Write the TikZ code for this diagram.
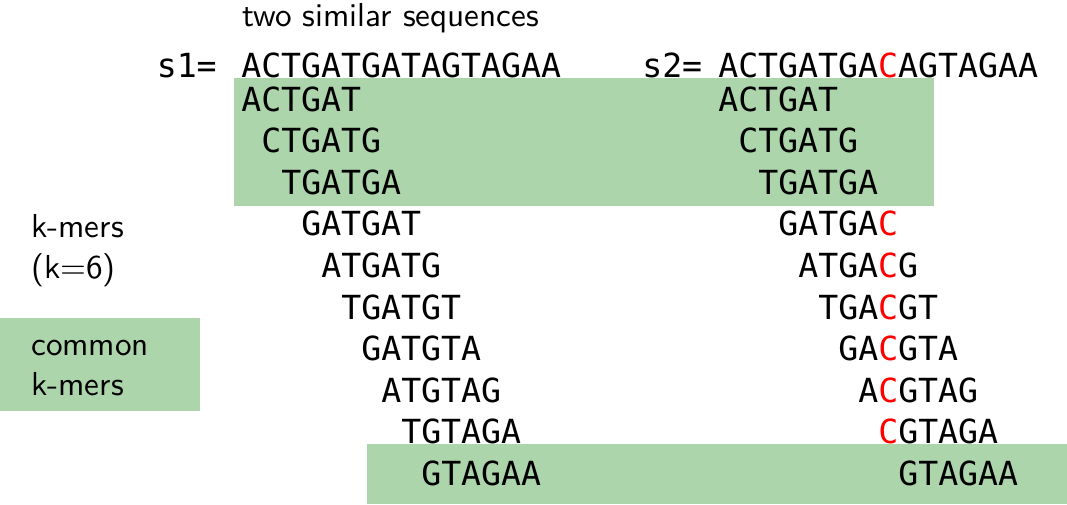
\documentclass[tikz,border=0pt]{standalone}
\usepackage{fontspec}
\setmonofont{DejaVu Sans Mono}
\setsansfont{lmsans10-regular.otf}
\usepackage{xcolor}
\definecolor{kmergreen}{RGB}{173,213,172}
\newcommand{\seqfont}{\fontsize{24.9}{30}\selectfont\ttfamily}
\newcommand{\labfont}{\fontsize{24.9}{30}\selectfont\sffamily}
\newcommand{\mism}[1]{\textcolor{red}{#1}}
\tikzset{
  seq/.style={anchor=base west, inner sep=0pt, font=\seqfont},
  lab/.style={anchor=base west, inner sep=0pt, font=\labfont},
  shared/.style={fill=kmergreen},
}

\begin{document}
\begin{tikzpicture}[x=0.75pt,y=0.75pt,yscale=-1,xscale=1]
    \useasboundingbox (0,0) rectangle (1067,504);

    %Shape: Rectangle [common k-mers, top]
    \fill [shared] (233.5,78) rectangle (933.5,206);
    %Shape: Rectangle [common k-mers, bottom]
    \fill [shared] (366.7,444) rectangle (1067,504);
    %Shape: Rectangle [legend]
    \fill [shared] (0,318.3) rectangle (200,410.7);

    % Text Node
    \node [lab] (title) at (242,26) {two similar sequences};
    % Text Node
    \node [seq] (s1lab) at (156.5,77) {s1=};
    % Text Node
    \node [seq] (s1) at (241,77) {ACTGATGATAGTAGAA};
    % Text Node
    \node [seq] (s2lab) at (642,77) {s2=};
    % Text Node
    \node [seq] (s2) at (718,77) {ACTGATGA\mism{C}AGTAGAA};

    % Text Node
    \node [seq] (a1) at (241,111) {ACTGAT};
    % Text Node
    \node [seq] (a2) at (261,152.6) {CTGATG};
    % Text Node
    \node [seq] (a3) at (281,194.2) {TGATGA};
    % Text Node
    \node [seq] (a4) at (301,235.8) {GATGAT};
    % Text Node
    \node [seq] (a5) at (321,277.4) {ATGATG};
    % Text Node
    \node [seq] (a6) at (341,319) {TGATGT};
    % Text Node
    \node [seq] (a7) at (361,360.6) {GATGTA};
    % Text Node
    \node [seq] (a8) at (381,402.2) {ATGTAG};
    % Text Node
    \node [seq] (a9) at (401,443.8) {TGTAGA};
    % Text Node
    \node [seq] (a10) at (421,485.4) {GTAGAA};

    % Text Node
    \node [seq] (b1) at (718,111) {ACTGAT};
    % Text Node
    \node [seq] (b2) at (738,152.6) {CTGATG};
    % Text Node
    \node [seq] (b3) at (758,194.2) {TGATGA};
    % Text Node
    \node [seq] (b4) at (778,235.8) {GATGA\mism{C}};
    % Text Node
    \node [seq] (b5) at (798,277.4) {ATGA\mism{C}G};
    % Text Node
    \node [seq] (b6) at (818,319) {TGA\mism{C}GT};
    % Text Node
    \node [seq] (b7) at (838,360.6) {GA\mism{C}GTA};
    % Text Node
    \node [seq] (b8) at (858,402.2) {A\mism{C}GTAG};
    % Text Node
    \node [seq] (b9) at (878,443.8) {\mism{C}GTAGA};
    % Text Node
    \node [seq] (b10) at (898,485.4) {GTAGAA};

    % Text Node
    \node [lab] (kmers) at (31,237.3) {k-mers};
    % Text Node
    \node [lab] (kval) at (31,278) {(k=6)};
    % Text Node
    \node [lab] (common) at (31,355) {common};
    % Text Node
    \node [lab] (commonk) at (31,395) {k-mers};
\end{tikzpicture}
\end{document}
